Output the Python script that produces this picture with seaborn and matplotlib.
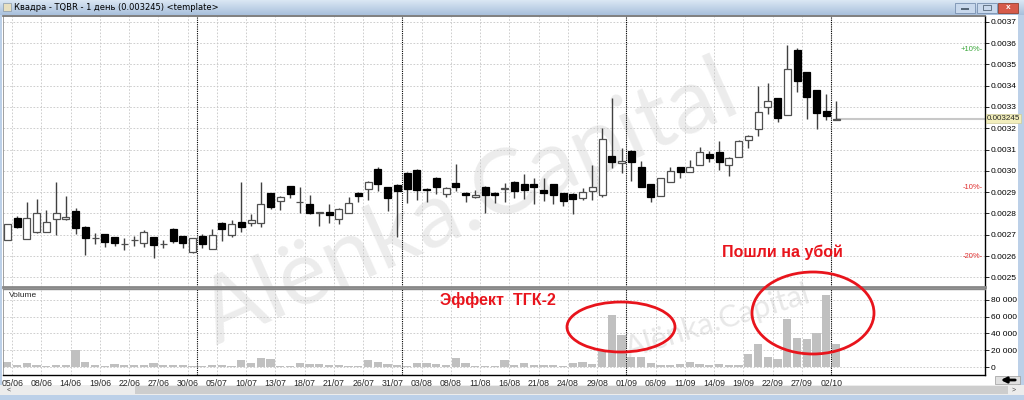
import matplotlib
import matplotlib.pyplot as plt
import matplotlib.transforms as mtransforms
import numpy as np
import pandas as pd
import seaborn as sns
from matplotlib.patches import Ellipse, Rectangle

matplotlib.use("Agg")
sns.set_theme(style="white")
plt.rcParams["font.family"] = ["Liberation Sans", "DejaVu Sans"]

# --- data (Квадра, TQBR, daily) ---
date_labels = ["05/06", "08/06", "14/06", "19/06", "22/06", "27/06", "30/06", "05/07", "10/07", "13/07",
               "18/07", "21/07", "26/07", "31/07", "03/08", "08/08", "11/08", "16/08", "21/08", "24/08",
               "29/08", "01/09", "06/09", "11/09", "14/09", "19/09", "22/09", "27/09", "02/10"]
month_starts = [19, 40, 63, 84]

opens = [0.002677, 0.002780, 0.002680, 0.002711, 0.002715, 0.002772, 0.002772, 0.002809, 0.002738, 0.002683,
         0.002703, 0.002688, 0.002657, 0.002675, 0.002660, 0.002688, 0.002657, 0.002729, 0.002692, 0.002618,
         0.002692, 0.002634, 0.002757, 0.002697, 0.002760, 0.002754, 0.002754, 0.002895, 0.002857, 0.002929,
         0.002852, 0.002845, 0.002803, 0.002806, 0.002775, 0.002803, 0.002898, 0.002914, 0.003008, 0.002923,
         0.002934, 0.002991, 0.003006, 0.002914, 0.002968, 0.002892, 0.002942, 0.002898, 0.002877, 0.002926,
         0.002898, 0.002916, 0.002949, 0.002938, 0.002938, 0.002908, 0.002937, 0.002895, 0.002892, 0.002872,
         0.002903, 0.002887, 0.003070, 0.003039, 0.003094, 0.003020, 0.002937, 0.002884, 0.002949, 0.003019,
         0.002995, 0.003027, 0.003078, 0.003086, 0.003027, 0.003066, 0.003144, 0.003198, 0.003300, 0.003342,
         0.003264, 0.003566, 0.003464, 0.003378, 0.003280, 0.003240]
highs = [0.002752, 0.002788, 0.002852, 0.002868, 0.002814, 0.002946, 0.002880, 0.002826, 0.002740, 0.002710,
         0.002705, 0.002690, 0.002683, 0.002692, 0.002720, 0.002690, 0.002677, 0.002730, 0.002695, 0.002685,
         0.002703, 0.002726, 0.002760, 0.002769, 0.002949, 0.002795, 0.002946, 0.002897, 0.002880, 0.002930,
         0.002926, 0.002885, 0.002805, 0.002842, 0.002825, 0.002875, 0.002900, 0.002950, 0.003018, 0.002925,
         0.002936, 0.002993, 0.003008, 0.002918, 0.002970, 0.002922, 0.003034, 0.002900, 0.002908, 0.002928,
         0.002900, 0.002945, 0.002950, 0.002985, 0.002965, 0.002965, 0.002939, 0.002897, 0.002894, 0.002920,
         0.003028, 0.003200, 0.003341, 0.003106, 0.003096, 0.003047, 0.002939, 0.002966, 0.003020, 0.003020,
         0.003050, 0.003112, 0.003094, 0.003141, 0.003066, 0.003143, 0.003166, 0.003397, 0.003413, 0.003344,
         0.003589, 0.003578, 0.003466, 0.003380, 0.003359, 0.003327]
lows = [0.002675, 0.002730, 0.002678, 0.002710, 0.002715, 0.002698, 0.002770, 0.002703, 0.002603, 0.002657,
        0.002642, 0.002649, 0.002630, 0.002646, 0.002642, 0.002592, 0.002637, 0.002660, 0.002637, 0.002615,
        0.002637, 0.002632, 0.002672, 0.002688, 0.002714, 0.002742, 0.002734, 0.002823, 0.002815, 0.002872,
        0.002803, 0.002798, 0.002742, 0.002754, 0.002749, 0.002800, 0.002854, 0.002862, 0.002903, 0.002811,
        0.002688, 0.002849, 0.002862, 0.002852, 0.002892, 0.002877, 0.002903, 0.002852, 0.002872, 0.002800,
        0.002849, 0.002852, 0.002872, 0.002868, 0.002845, 0.002857, 0.002843, 0.002834, 0.002798, 0.002862,
        0.002864, 0.002875, 0.003015, 0.002989, 0.002950, 0.002924, 0.002853, 0.002882, 0.002948, 0.002964,
        0.002994, 0.003026, 0.003042, 0.003003, 0.002975, 0.003065, 0.003105, 0.003164, 0.003269, 0.003230,
        0.003262, 0.003370, 0.003242, 0.003194, 0.003238, 0.003238]
closes = [0.002749, 0.002734, 0.002780, 0.002803, 0.002760, 0.002803, 0.002783, 0.002732, 0.002683, 0.002683,
          0.002665, 0.002662, 0.002657, 0.002677, 0.002715, 0.002654, 0.002657, 0.002669, 0.002660, 0.002683,
          0.002657, 0.002698, 0.002726, 0.002749, 0.002738, 0.002768, 0.002846, 0.002831, 0.002877, 0.002890,
          0.002852, 0.002803, 0.002803, 0.002792, 0.002823, 0.002849, 0.002883, 0.002949, 0.002937, 0.002872,
          0.002903, 0.002915, 0.002911, 0.002911, 0.002926, 0.002920, 0.002926, 0.002885, 0.002888, 0.002888,
          0.002888, 0.002918, 0.002903, 0.002911, 0.002926, 0.002895, 0.002888, 0.002857, 0.002868, 0.002900,
          0.002922, 0.003150, 0.003041, 0.003048, 0.003041, 0.002924, 0.002877, 0.002964, 0.002998, 0.002995,
          0.003019, 0.003086, 0.003061, 0.003042, 0.003058, 0.003141, 0.003164, 0.003277, 0.003327, 0.003250,
          0.003480, 0.003422, 0.003347, 0.003273, 0.003258, 0.003245]
volumes = [6700, 2400, 4700, 2400, 1600, 2400, 3200, 20500, 5900, 3200,
           1600, 4000, 3200, 2400, 2400, 4700, 3200, 2400, 3200, 1200,
           1600, 2400, 2400, 1200, 8300, 4700, 11400, 9900, 1600, 1600,
           4700, 4000, 4000, 2400, 2400, 1200, 1200, 9100, 5900, 4000,
           2400, 1200, 4700, 4700, 4000, 2400, 10600, 4700, 1600, 1600,
           1600, 8300, 2400, 5500, 2400, 2400, 2400, 1600, 5100, 6100,
           4000, 19700, 61900, 38600, 11800, 11800, 4700, 2400, 2400, 3500,
           5700, 4300, 2400, 4300, 2400, 2400, 15300, 27200, 11800, 9500,
           57100, 34800, 32900, 40600, 85000, 28000]
last_price = 0.003245
pct_levels = [("+10%", 1.10, "#3aa63a"), ("-10%", 0.90, "#e03030"), ("-20%", 0.80, "#e03030")]

df = pd.DataFrame({"open": opens, "high": highs, "low": lows, "close": closes, "volume": volumes})
df["idx"] = np.arange(len(df))

fig = plt.figure(figsize=(10.24, 4.0), dpi=100)
fig.patch.set_facecolor("white")

# background: window chrome + watermark (pixel coords)
bg = fig.add_axes([0, 0, 1, 1], zorder=0)
bg.set_xlim(0, 1024)
bg.set_ylim(400, 0)
bg.axis("off")
grad = np.linspace(0, 1, 50).reshape(-1, 1)
bg.imshow(grad, extent=(0, 1024, 15, 0), cmap=matplotlib.colors.LinearSegmentedColormap.from_list(
    "tb", ["#dbe7f4", "#a8c0dc"]), aspect="auto")
bg.add_patch(Rectangle((2.5, 3), 8, 8, fc="#e8e0c0", ec="#8899aa", lw=0.5))
bg.text(14, 7.5, "Квадра - TQBR - 1 день (0.003245) <template>", fontsize=6, va="center", color="black",
        family="DejaVu Sans")
bg.add_patch(Rectangle((955, 2.5), 20, 10, fc="#c8d8ec", ec="#7890b0", lw=0.6))
bg.add_patch(Rectangle((977, 2.5), 20, 10, fc="#c8d8ec", ec="#7890b0", lw=0.6))
bg.add_patch(Rectangle((998, 2.5), 20, 10, fc="#d65a4a", ec="#904030", lw=0.6))
bg.add_patch(Rectangle((961, 8), 8, 1.5, fc="#556677", lw=0))
bg.add_patch(Rectangle((983, 5), 8, 5, fc="none", ec="#556677", lw=0.6))
bg.text(1008, 7.5, "x", fontsize=6, color="white", ha="center", va="center", fontweight="bold")
bg.add_patch(Rectangle((0, 15), 2, 385, fc="#bcd0e8", lw=0))
bg.add_patch(Rectangle((1018, 15), 6, 385, fc="#bcd0e8", lw=0))
bg.add_patch(Rectangle((0, 385), 1024, 10, fc="#ececec", lw=0))
bg.add_patch(Rectangle((135, 386), 873, 8, fc="#cdcdcd", lw=0))
bg.text(7, 390, "<", fontsize=5, va="center", color="#444")
bg.text(1012, 390, ">", fontsize=5, va="center", color="#444")
bg.add_patch(Rectangle((0, 395), 1024, 5, fc="#bcd0e8", lw=0))
bg.add_patch(Rectangle((995, 376), 25, 8, fc="#e0e0e0", ec="#999999", lw=0.5))
bg.text(470, 205, "Alënka.Capital", fontsize=66, rotation=24, color="#ececec",
        ha="center", va="center", family="Lato", fontweight="normal")
bg.text(718, 322, "Alënka.Capital", fontsize=22, rotation=17, color="#e8e8e8",
        ha="center", va="center", family="Lato", fontweight="normal")

# price panel
ax = fig.add_axes([3 / 1024, 1 - 287 / 400, 982 / 1024, 271 / 400], zorder=2)
axv = fig.add_axes([3 / 1024, 1 - 375 / 400, 982 / 1024, 86 / 400], zorder=2, sharex=ax)
for a in (ax, axv):
    a.set_facecolor("none")

up = df["close"] >= df["open"]
ax.vlines(df["idx"], df["low"], df["high"], color="#404040", lw=1, zorder=2)
body_lo = np.minimum(df["open"], df["close"])
body_h = np.maximum(np.abs(df["close"] - df["open"]), 0.0000015)
ax.bar(df["idx"][up], body_h[up], bottom=body_lo[up], width=0.72, color="white",
       edgecolor="#505050", linewidth=0.9, zorder=3)
ax.bar(df["idx"][~up], body_h[~up], bottom=body_lo[~up], width=0.72, color="black",
       edgecolor="black", linewidth=0.9, zorder=3)

xmin, xmax = -0.44, 100.28
ax.hlines(last_price, df["idx"].iloc[-1], xmax, color="#c8c8c8", lw=1.5, zorder=1)
trans = mtransforms.blended_transform_factory(ax.transAxes, ax.transData)
for lab, k, col in pct_levels:
    ax.text(0.998, last_price * k, lab + "-", transform=trans, ha="right", va="center",
            fontsize=5.5, color=col)
ax.text(1.002, last_price, "0.003245", transform=trans, ha="left", va="center", fontsize=5.8,
        bbox=dict(boxstyle="square,pad=0.12", fc="#f2eebb", ec="#cfcb9a", lw=0.5), zorder=5)

ax.set_ylim(0.0024545, 0.0037268)
ax.set_yticks(np.arange(0.0025, 0.00371, 0.0001))
ax.yaxis.set_major_formatter(matplotlib.ticker.FuncFormatter(lambda v, p: f"{v:.4f}"))

# volume panel
sns.barplot(data=df, x="idx", y="volume", native_scale=True, color="#c0c0c0", saturation=1,
            width=0.85, ax=axv, zorder=2, linewidth=0)
axv.set_ylim(-9100, 92600)
axv.set_yticks([0, 20000, 40000, 60000, 80000])
axv.yaxis.set_major_formatter(matplotlib.ticker.FuncFormatter(lambda v, p: f"{int(v):,}".replace(",", " ")))
axv.set_xlabel("")
axv.set_ylabel("")
axv.text(0.006, 0.93, "Volume", transform=axv.transAxes, fontsize=6, va="center")

tick_pos = [3 * k + 0.5 for k in range(len(date_labels))]
for a in (ax, axv):
    a.set_xlim(xmin, xmax)
    a.set_xticks(tick_pos)
    a.yaxis.tick_right()
    a.tick_params(axis="y", labelsize=6, length=3, width=0.6, pad=1, colors="black", direction="out", right=True)
    a.tick_params(axis="x", length=0, labelsize=6.3, pad=3)
    a.grid(True, color="#c6c6c6", linestyle=(0, (2, 2)), lw=0.6)
    a.set_axisbelow(True)
    for m in month_starts:
        a.axvline(m + 0.45, color="black", linestyle=(0, (1, 1)), lw=0.8, zorder=1)
    a.spines["right"].set_color("black")
    a.spines["right"].set_linewidth(1)
    a.spines["left"].set_color("#909090")
    a.spines["left"].set_linewidth(0.6)
ax.tick_params(axis="x", labelbottom=False)
axv.set_xticklabels(date_labels)
ax.spines["top"].set_color("#707070")
ax.spines["bottom"].set_color("#888888")
ax.spines["bottom"].set_linewidth(2)
axv.spines["top"].set_color("#888888")
axv.spines["top"].set_linewidth(1)
axv.spines["bottom"].set_color("black")
axv.spines["bottom"].set_linewidth(1)

# red annotations on top (pixel coords)
ov = fig.add_axes([0, 0, 1, 1], zorder=10)
ov.set_xlim(0, 1024)
ov.set_ylim(400, 0)
ov.axis("off")
ov.patch.set_alpha(0)
red = "#e8141c"
ov.add_patch(Ellipse((621, 327), 108, 50, fill=False, ec=red, lw=2))
ov.add_patch(Ellipse((813, 313), 122, 82, fill=False, ec=red, lw=2))
ov.text(440, 300, "Эффект  ТГК-2", color=red, fontsize=11.5, fontweight="bold",
        va="center", ha="left")
ov.text(722, 252, "Пошли на убой", color=red, fontsize=11.5, fontweight="bold",
        va="center", ha="left")
ov.annotate("", xy=(998, 380), xytext=(1018, 380),
            arrowprops=dict(arrowstyle="-|>", color="black", lw=2, mutation_scale=8))

fig.savefig("out.png", dpi=100)
plt.close()
